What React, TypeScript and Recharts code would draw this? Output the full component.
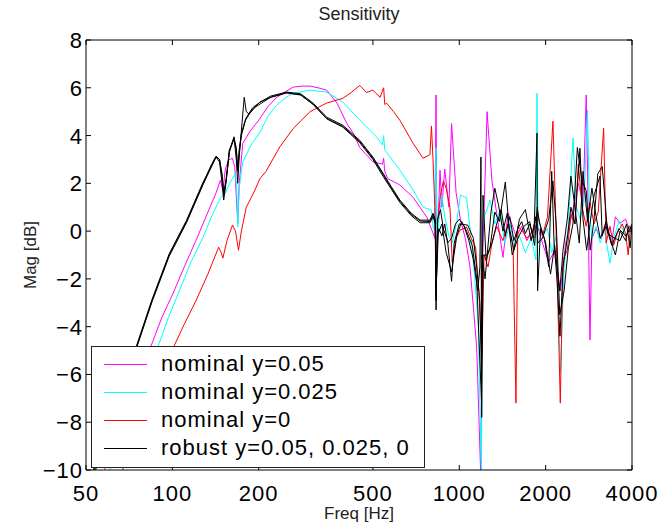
import { LineChart, Line, XAxis, YAxis, Legend, Label } from 'recharts';

const FONT = '"Liberation Sans", Arial, Helvetica, sans-serif';

const freqTicks = [50, 100, 200, 500, 1000, 2000, 4000];
const magTicks = [-10, -8, -6, -4, -2, 0, 2, 4, 6, 8];

// [freq Hz, mag dB]
const nominal005: [number, number][] = [
  [50, -12], [58, -10], [66, -8.2], [75, -6.5], [84, -4.85], [92, -3.6], [100.6, -2.6], [110, -1.5],
  [121, -0.38], [132, 0.7], [142, 1.6], [147, 2.13], [150, 1.7], [153, 2.6], [157, 2.97], [162, 3.05],
  [165, 2.68], [167, 1.5], [169, 0.33], [171, 2.0], [176, 3.68], [187, 4.2], [200, 4.64], [215, 5.2],
  [231, 5.6], [249, 5.85], [264, 6.03], [285, 6.07], [302, 6.07], [327, 5.98], [345, 5.9], [375, 5.36],
  [405, 4.52], [427, 4.1], [450, 3.5], [500, 2.9], [540, 2.8], [545, 3.05], [550, 2.5], [563, 2.2],
  [621, 1.93], [690, 1.42], [770, 0.59], [810, -0.08], [822, -0.3], [830, 5.7], [835, 0.3], [845, 0.6],
  [857, 2.55], [870, 1.0], [890, 2.6], [920, 1.0], [940, 4.5], [975, 1.6], [1010, 0.46], [1050, -0.3],
  [1090, -1.5], [1150, -4.85], [1190, -10.5], [1200, -2.0], [1250, 5.0], [1300, 2.1], [1350, 0.75],
  [1420, -1.1], [1480, 0.75], [1580, -0.25], [1650, 0.2], [1720, -0.4], [1800, 0.0], [1866, 0.3],
  [1950, -0.5], [2050, -1.3], [2150, -0.8], [2250, -2.5], [2350, -0.5], [2450, 0.5], [2600, 2.0],
  [2700, 1.2], [2770, 5.7], [2800, 2.5], [2855, -4.56], [2900, -0.3], [3000, 0.1], [3100, -0.3],
  [3250, 0.4], [3400, -0.5], [3500, 0.6], [3633, 0.33], [3800, 0.5], [3900, 0.1], [4000, 0.1],
];

const nominal0025: [number, number][] = [
  [50, -12.5], [60.5, -10], [68, -8.3], [78, -6.5], [89, -4.85], [97, -3.6], [105, -2.6], [116, -1.3],
  [128, -0.25], [138, 0.7], [147, 1.38], [153, 1.6], [160, 2.1], [166, 2.43], [168, 1.5], [169, 0.17],
  [171, 1.8], [176, 2.9], [188, 3.6], [202, 4.14], [215, 4.8], [231, 5.27], [249, 5.6], [264, 5.77],
  [302, 5.9], [345, 5.82], [393, 5.4], [450, 4.64], [516, 3.93], [540, 3.6], [545, 4.0], [550, 3.4],
  [621, 2.55], [690, 1.72], [748, 1.0], [800, 0.88], [810, 0.17], [822, 0.0], [830, 3.5], [836, -0.8],
  [850, 0.5], [870, 1.5], [890, 0.6], [920, -0.2], [945, -0.5], [980, 0.4], [1010, 1.5], [1060, 1.4],
  [1100, -0.3], [1130, -1.8], [1165, -4.0], [1195, -10.2], [1205, 0.5], [1240, 0.8], [1280, 1.3],
  [1330, 0.3], [1387, 0.88], [1440, -0.5], [1500, 0.3], [1560, -0.6], [1620, -0.2], [1700, -0.9],
  [1780, -0.3], [1850, -1.2], [1866, 5.77], [1880, 0.2], [1950, -0.2], [2030, 0.1], [2100, -0.9],
  [2180, -0.2], [2250, -5.9], [2320, -1.5], [2400, 0.2], [2490, 3.9], [2560, 1.0], [2640, 0.5],
  [2720, 1.2], [2800, 5.06], [2840, 1.0], [2900, -0.3], [3000, 0.2], [3100, -0.5], [3200, 0.1],
  [3353, -1.34], [3450, -0.3], [3600, 0.4], [3800, -0.2], [4000, 0.2],
];

const nominal0: [number, number][] = [
  [50, -13.7], [67, -10], [75, -8.5], [85, -6.7], [101, -4.85], [110, -3.9], [121, -2.9], [133, -1.8],
  [145, -0.67], [148, -0.9], [150, -1.13], [155, -0.4], [162, 0.25], [166, 0.0], [170, -0.8], [174, 0.0],
  [181, 1.0], [192, 1.6], [202, 2.2], [212, 2.5], [237, 3.53], [264, 4.3], [302, 5.0], [345, 5.36],
  [393, 5.56], [420, 5.8], [450, 6.1], [475, 5.8], [500, 5.9], [530, 5.6], [545, 6.0], [550, 5.3],
  [558, 5.36], [590, 5.0], [621, 4.64], [690, 3.68], [748, 3.05], [790, 3.2], [800, 4.4], [810, 3.0],
  [822, 1.0], [830, -2.9], [840, 0.3], [860, 1.5], [880, 2.1], [900, 1.8], [928, 1.0], [945, -1.3],
  [975, -0.3], [1006, 0.04], [1060, 0.17], [1100, -0.3], [1140, -0.67], [1170, -2.5], [1200, -5.2],
  [1220, -1.0], [1260, -1.5], [1300, -0.5], [1350, 0.2], [1420, -0.4], [1480, 0.3], [1540, -0.6],
  [1576, -7.2], [1600, 0.2], [1660, 0.0], [1720, -0.3], [1800, 0.0], [1870, 0.8], [1950, -0.2],
  [2030, 0.6], [2121, 4.6], [2170, 0.5], [2250, -7.2], [2300, -1.2], [2380, -0.8], [2450, 0.7],
  [2530, 0.3], [2600, 2.8], [2680, 1.0], [2770, 0.2], [2855, 1.2], [2950, 0.3], [3050, 0.8],
  [3186, 4.3], [3250, -0.5], [3350, 0.2], [3450, -0.6], [3550, -0.1], [3700, 0.3], [3800, -0.1],
  [3880, -1.0], [3950, 0.2], [4000, 0.3],
];

const robustA: [number, number][] = [
  [50, -11], [53.5, -10], [60, -8.3], [67, -6.6], [75, -4.85], [85, -2.9], [97.5, -1.0], [112, 0.4],
  [128, 2.0], [137, 2.8], [142, 3.14], [146, 3.0], [149, 2.4], [151, 1.6], [154, 2.2], [158, 3.4],
  [164, 3.9], [167, 3.5], [169, 2.6], [171, 3.4], [174, 4.1], [180, 4.7], [190, 5.15], [202, 5.4],
  [220, 5.65], [250, 5.82], [280, 5.75], [310, 5.35], [345, 4.77], [393, 4.43], [450, 3.8], [500, 3.1],
  [542, 2.43], [580, 1.85], [621, 1.3], [680, 0.75], [730, 0.46], [790, 0.46], [810, 0.75], [825, 0.5],
  [830, -3.3], [838, -0.2], [850, 0.1], [870, -0.2], [890, 0.3], [910, -0.5], [940, -0.3], [970, 0.3],
  [1000, 0.5], [1040, 0.2], [1080, -0.4], [1120, -1.2], [1160, -2.5], [1180, -1.5], [1190, 3.1],
  [1197, -7.8], [1210, -1.0], [1250, -1.0], [1300, -0.5], [1350, 0.3], [1400, 0.9], [1447, -0.2],
  [1500, 0.6], [1550, -0.4], [1600, 0.1], [1650, 0.4], [1700, -0.1], [1760, 0.3], [1820, -0.3],
  [1866, 4.1], [1875, -2.5], [1920, 0.1], [1980, -0.3], [2050, -1.5], [2100, 2.5], [2140, -0.5],
  [2190, -2.0], [2244, -4.4], [2300, -1.5], [2380, -0.3], [2450, 1.0], [2530, 0.3], [2634, 3.47],
  [2700, 0.5], [2780, -0.8], [2855, 0.3], [2950, 1.5], [3093, 2.3], [3150, -0.2], [3250, 0.4],
  [3353, -0.3], [3500, -1.0], [3633, 0.0], [3800, -0.4], [3900, 0.2], [4000, 0.1],
];

const robustB: [number, number][] = [
  [50, -11.1], [53, -10], [60, -8.2], [67, -6.5], [75, -4.8], [85, -2.85], [97.5, -0.95], [112, 0.45],
  [128, 2.05], [142, 3.1], [146, 2.9], [149, 2.0], [151, 1.3], [153, 1.8], [158, 3.3], [164, 3.95],
  [167, 3.0], [169, 2.0], [171, 3.1], [174, 4.2], [178, 5.6], [181, 5.0], [185, 4.9], [195, 5.2],
  [220, 5.6], [250, 5.8], [280, 5.7], [310, 5.3], [345, 4.7], [393, 4.35], [450, 3.7], [500, 3.0],
  [542, 2.3], [580, 1.75], [621, 1.2], [680, 0.65], [730, 0.35], [790, 0.35], [810, 0.6], [825, 0.3],
  [830, -2.9], [840, 0.5], [860, 0.9], [880, 0.1], [910, -0.4], [940, -2.1], [960, -0.5], [1000, 0.3],
  [1070, 0.25], [1120, -0.3], [1150, -1.5], [1180, -3.0], [1195, -6.0], [1210, 1.5], [1240, -1.2],
  [1280, -0.7], [1330, 0.8], [1380, 0.4], [1447, 2.05], [1490, 0.2], [1550, -0.8], [1620, 0.5],
  [1700, 0.9], [1780, -0.4], [1850, 0.6], [1880, -0.5], [1950, -0.3], [2050, 0.5], [2120, 2.1],
  [2180, 0.2], [2240, -3.5], [2320, -2.5], [2400, -0.7], [2490, 0.3], [2580, 3.5], [2680, 2.1],
  [2770, 1.7], [2860, -0.8], [2950, 0.5], [3040, 2.4], [3150, 2.7], [3200, 1.7], [3290, -0.1],
  [3430, -0.25], [3633, -0.4], [3830, 0.3], [3940, -0.7], [4000, 0.3],
];

const robustC: [number, number][] = [
  [50, -10.9], [54, -10], [60, -8.4], [67, -6.7], [75, -4.9], [85, -2.95], [97.5, -1.05], [112, 0.35],
  [128, 1.95], [142, 3.1], [146, 3.0], [149, 2.3], [151, 1.5], [154, 2.1], [158, 3.35], [164, 3.85],
  [167, 3.4], [169, 2.5], [171, 3.3], [174, 4.0], [180, 4.65], [190, 5.1], [202, 5.4], [220, 5.6],
  [250, 5.78], [280, 5.7], [310, 5.3], [345, 4.72], [393, 4.38], [450, 3.75], [500, 3.05], [542, 2.38],
  [580, 1.8], [621, 1.25], [680, 0.7], [730, 0.42], [790, 0.4], [810, 0.68], [825, 0.4], [830, -2.5],
  [845, -0.1], [870, 0.3], [900, -0.9], [940, -1.7], [980, -0.2], [1020, 0.4], [1060, 0.0],
  [1110, -0.6], [1150, -2.0], [1180, -5.5], [1195, -7.0], [1200, -1.0], [1230, -2.0], [1290, 0.8],
  [1330, 1.8], [1370, 1.1], [1420, 0.0], [1470, 0.75], [1530, -1.0], [1600, -0.3], [1680, 0.2],
  [1760, 0.4], [1830, -0.6], [1870, 1.0], [1900, 0.4], [2000, -0.5], [2080, -1.8], [2150, -0.6],
  [2240, -2.5], [2300, -0.8], [2380, 0.5], [2450, 2.3], [2530, 1.0], [2620, -0.5], [2700, 2.5],
  [2800, 0.4], [2900, 1.8], [3000, 0.6], [3100, -0.3], [3250, 0.2], [3400, -0.6], [3600, 0.1],
  [3800, -0.2], [4000, 0.2],
];

const legendItems = [
  { label: 'nominal y=0.05', color: '#ff00ff' },
  { label: 'nominal y=0.025', color: '#00ffff' },
  { label: 'nominal y=0', color: '#ff0000' },
  { label: 'robust y=0.05, 0.025, 0', color: '#000000' },
];

const toRows = (pts: [number, number][]) => pts.map(([f, v]) => ({ f, v }));

const series = [
  { key: 'm', data: toRows(nominal005), color: '#ff00ff' },
  { key: 'c', data: toRows(nominal0025), color: '#00ffff' },
  { key: 'r', data: toRows(nominal0), color: '#ff0000' },
  { key: 'ba', data: toRows(robustA), color: '#000000' },
  { key: 'bb', data: toRows(robustB), color: '#000000' },
  { key: 'bc', data: toRows(robustC), color: '#000000' },
];

const fmt = (v: number) => String(v).replace('-', '\u2212');

const BottomTick = ({ x, y, payload }: any) => (
  <g>
    <line x1={x} y1={y} x2={x} y2={y - 5} stroke="#000" />
    <text x={x} y={y + 31} textAnchor="middle" fontSize={22} letterSpacing={1} fontFamily={FONT} fill="#000">
      {payload.value}
    </text>
  </g>
);

const TopTick = ({ x, y }: any) => <line x1={x} y1={y} x2={x} y2={y + 5} stroke="#000" />;

const LeftTick = ({ x, y, payload }: any) => (
  <g>
    <line x1={x} y1={y} x2={x + 5} y2={y} stroke="#000" />
    <text x={x - 3} y={y + 8} textAnchor="end" fontSize={22} letterSpacing={1} fontFamily={FONT} fill="#000">
      {fmt(payload.value)}
    </text>
  </g>
);

const RightTick = ({ x, y }: any) => <line x1={x} y1={y} x2={x - 5} y2={y} stroke="#000" />;

const LegendBox = () => (
  <div
    style={{
      width: 334,
      height: 122,
      boxSizing: 'border-box',
      border: '1px solid #222',
      background: '#fff',
      position: 'relative',
    }}
  >
    {legendItems.map((it, i) => (
      <div
        key={it.label}
        style={{ position: 'absolute', left: 12, top: 3 + i * 28, height: 28, display: 'flex', alignItems: 'center' }}
      >
        <span style={{ display: 'inline-block', width: 43, height: 0, borderTop: `1px solid ${it.color}` }} />
        <span
          style={{ marginLeft: 14, fontSize: 22, letterSpacing: 1, fontFamily: FONT, color: '#000', whiteSpace: 'nowrap' }}
        >
          {it.label}
        </span>
      </div>
    ))}
  </div>
);

export default function App() {
  return (
    <div style={{ position: 'absolute', left: 0, top: 0, background: '#fff' }}>
      <LineChart width={672} height={524} margin={{ top: 39, right: 39, bottom: 24, left: 0 }}>
        <XAxis
          dataKey="f"
          type="number"
          scale="log"
          domain={[50, 4000]}
          ticks={freqTicks}
          allowDataOverflow
          height={30}
          tickSize={0}
          tickMargin={0}
          tickLine={false}
          tick={<BottomTick />}
          axisLine={{ stroke: '#000' }}
          interval={0}
        >
          <Label
            content={({ viewBox }: any) => (
              <text x={viewBox.x + viewBox.width / 2} y={viewBox.y + 49} textAnchor="middle" fontSize={17} fontFamily={FONT} fill="#222">
                Freq [Hz]
              </text>
            )}
          />
        </XAxis>
        <XAxis
          xAxisId="top"
          orientation="top"
          dataKey="f"
          type="number"
          scale="log"
          domain={[50, 4000]}
          ticks={freqTicks}
          allowDataOverflow
          height={1}
          tickSize={0}
          tickMargin={0}
          tickLine={false}
          tick={<TopTick />}
          axisLine={{ stroke: '#000' }}
          interval={0}
        >
          <Label
            content={({ viewBox }: any) => (
              <text x={viewBox.x + viewBox.width / 2} y={viewBox.y + viewBox.height - 20} textAnchor="middle" fontSize={18} fontFamily={FONT} fill="#222">
                Sensitivity
              </text>
            )}
          />
        </XAxis>
        <YAxis
          type="number"
          domain={[-10, 8]}
          ticks={magTicks}
          allowDataOverflow
          width={86}
          tickSize={0}
          tickMargin={0}
          tickLine={false}
          tick={<LeftTick />}
          axisLine={{ stroke: '#000' }}
          interval={0}
        >
          <Label
            content={({ viewBox }: any) => {
              const cy = viewBox.y + viewBox.height / 2;
              return (
                <text x={36} y={cy} transform={`rotate(-90 36 ${cy})`} textAnchor="middle" fontSize={17} fontFamily={FONT} fill="#222">
                  Mag [dB]
                </text>
              );
            }}
          />
        </YAxis>
        <YAxis
          yAxisId="right"
          orientation="right"
          type="number"
          domain={[-10, 8]}
          ticks={magTicks}
          allowDataOverflow
          width={1}
          tickSize={0}
          tickMargin={0}
          tickLine={false}
          tick={<RightTick />}
          axisLine={{ stroke: '#000' }}
          interval={0}
        />
        {series.map((s) => (
          <Line
            key={s.key}
            data={s.data}
            dataKey="v"
            type="linear"
            stroke={s.color}
            strokeWidth={1}
            dot={false}
            activeDot={false}
            isAnimationActive={false}
          />
        ))}
        <Legend
          layout="vertical"
          align="center"
          verticalAlign="middle"
          content={<LegendBox />}
          wrapperStyle={{ left: 91, top: 346, width: 334, height: 122 }}
        />
      </LineChart>
    </div>
  );
}
